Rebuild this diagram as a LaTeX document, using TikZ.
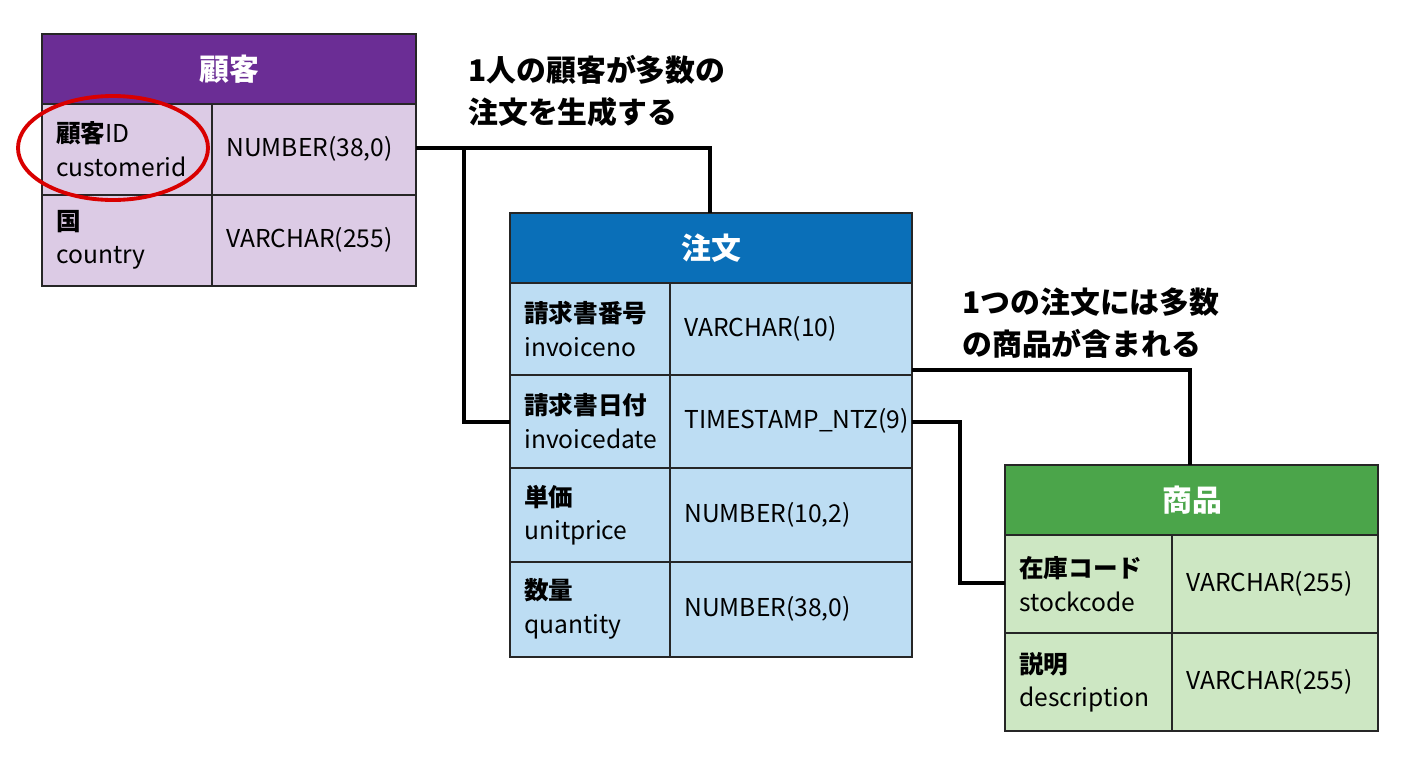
\documentclass[tikz,border=0pt]{standalone}
\usepackage{fontspec}
\setmainfont{Noto Sans CJK JP}
\begin{document}
\begin{tikzpicture}[x=0.02cm,y=-0.02cm,
 cell/.style={draw=black!85,line width=0.9pt},
 hdr/.style={font=\fontsize{17}{20}\selectfont\bfseries,text=white},
 txt/.style={font=\fontsize{14}{19}\selectfont,align=left,anchor=west,inner sep=0pt},
 conn/.style={line width=2.2pt,black}]
\definecolor{pH}{HTML}{6B2D95}\definecolor{pL}{HTML}{DCCBE5}
\definecolor{bH}{HTML}{0A6FB8}\definecolor{bL}{HTML}{BDDDF3}
\definecolor{gH}{HTML}{4BA54A}\definecolor{gL}{HTML}{CDE7C3}
\useasboundingbox (0,0) rectangle (1408,768);
\fill[white] (0,0) rectangle (1408,768);
% customer
\draw[cell,fill=pH] (42,34) rectangle (416,104);
\node[hdr] (cH) at (229,69) {顧客};
\draw[cell,fill=pL] (42,104) rectangle (212,195); \draw[cell,fill=pL] (212,104) rectangle (416,195);
\draw[cell,fill=pL] (42,195) rectangle (212,286); \draw[cell,fill=pL] (212,195) rectangle (416,286);
\node[txt] at (56,149) {\textbf{顧客}ID\\customerid};
\node[txt] (cid) at (226,149) {NUMBER(38,0)};
\node[txt] at (56,240) {\textbf{国}\\country};
\node[txt] at (226,240) {VARCHAR(255)};
\coordinate (cR) at (416,148);
\draw[red!85!black,line width=2.2pt] (113,148) ellipse (95 and 52);
% order
\draw[cell,fill=bH] (510,213) rectangle (912,283);
\node[hdr] (oH) at (711,248) {注文};
\foreach \a/\b in {283/375,375/468,468/562,562/657}{
 \draw[cell,fill=bL] (510,\a) rectangle (670,\b); \draw[cell,fill=bL] (670,\a) rectangle (912,\b);}
\node[txt] at (524,329) {\textbf{請求書番号}\\invoiceno};
\node[txt] at (684,329) {VARCHAR(10)};
\node[txt] at (524,421) {\textbf{請求書日付}\\invoicedate};
\node[txt] at (684,421) {TIMESTAMP\_NTZ(9)};
\node[txt] at (524,515) {\textbf{単価}\\unitprice};
\node[txt] at (684,515) {NUMBER(10,2)};
\node[txt] at (524,609) {\textbf{数量}\\quantity};
\node[txt] at (684,609) {NUMBER(38,0)};
\coordinate (oT) at (710,213); \coordinate (oL) at (510,422);
\coordinate (oR1) at (912,370); \coordinate (oR2) at (912,422);
% product
\draw[cell,fill=gH] (1005,465) rectangle (1378,535);
\node[hdr] (pH) at (1192,500) {商品};
\foreach \a/\b in {535/633,633/731}{
 \draw[cell,fill=gL] (1005,\a) rectangle (1172,\b); \draw[cell,fill=gL] (1172,\a) rectangle (1378,\b);}
\node[txt] at (1019,584) {\textbf{在庫コード}\\stockcode};
\node[txt] at (1186,584) {VARCHAR(255)};
\node[txt] at (1019,682) {\textbf{説明}\\description};
\node[txt] at (1186,682) {VARCHAR(255)};
\coordinate (pT) at (1190,465); \coordinate (pL) at (1005,583);
% connectors
\draw[conn] (cR) -- (710,148) -- (oT);
\draw[conn] (464,148) -- (464,422) -- (oL);
\draw[conn] (oR1) -- (1190,370) -- (pT);
\draw[conn] (oR2) -- (960,422) -- (960,583) -- (pL);
% labels
\node[txt,font=\fontsize{17}{24}\selectfont\bfseries,anchor=north west] (l1) at (468,55) {1人の顧客が多数の\\注文を生成する};
\node[txt,font=\fontsize{17}{24}\selectfont\bfseries,anchor=north west] (l2) at (962,287) {1つの注文には多数\\の商品が含まれる};
\end{tikzpicture}
\end{document}
